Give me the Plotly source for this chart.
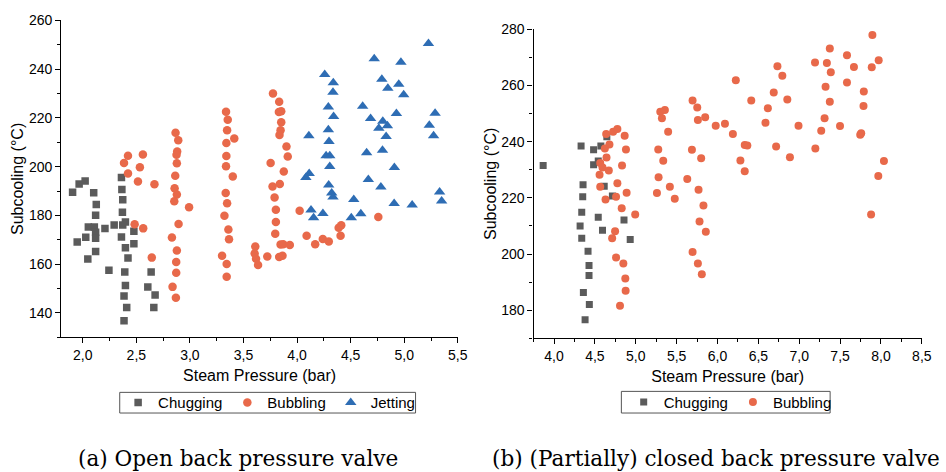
import plotly.graph_objects as go

# ---- (a) open back pressure valve ----
a_chug_p = [1.905, 1.948, 1.966, 2.022, 2.028, 2.047, 2.052, 2.102, 2.108, 2.12, 2.126, 2.12, 2.12, 2.12,
            2.207, 2.244, 2.293, 2.361, 2.365, 2.373, 2.37, 2.373, 2.398, 2.361, 2.398, 2.422, 2.392,
            2.398, 2.385, 2.41, 2.385, 2.477, 2.477, 2.638, 2.607, 2.675, 2.663]
a_chug_t = [189.5, 169.1, 192.9, 194.1, 171.1, 162.1, 175.3, 189.3, 175.3, 173.1, 184.5, 180.1, 170.6, 165.2,
            174.6, 157.5, 176.1, 195.6, 190.7, 186.4, 181.3, 176.1, 177.3, 171.2, 166.8, 162.5, 156.8,
            151.3, 147.0, 142.2, 136.8, 173.5, 168.4, 156.8, 150.6, 147.4, 142.2]

a_bub_p = [2.385, 2.422, 2.422, 2.561, 2.533, 2.515, 2.669, 2.484, 2.564, 2.644,
           2.866, 2.891, 2.881, 2.875, 2.878, 2.863, 2.857, 2.878, 2.854, 2.992, 2.894, 2.832, 2.878,
           2.872, 2.872, 2.838, 2.869,
           3.337, 3.353, 3.347, 3.34, 3.414, 3.34, 3.337, 3.4, 3.334, 3.347, 3.322, 3.359, 3.365,
           3.3, 3.343, 3.343,
           3.775, 3.833, 3.83, 3.852, 3.852, 3.846, 3.836, 3.901, 3.913, 3.753, 3.876, 3.771, 3.839,
           3.79, 3.802, 3.802, 3.796, 3.846, 3.87, 3.932, 3.833, 3.864, 3.61, 3.604, 3.617, 3.636,
           3.722, 4.024, 4.089, 4.169, 4.24, 4.296, 4.388, 4.412, 4.406, 4.758]
a_bub_t = [201.5, 204.5, 197.2, 205.0, 199.8, 193.9, 192.8, 176.4, 174.7, 162.7,
           213.9, 210.9, 206.2, 204.9, 201.4, 196.3, 191.2, 188.6, 185.8, 183.4, 176.5, 171.0, 165.6,
           160.9, 156.5, 150.7, 146.2,
           222.6, 219.3, 215.0, 209.7, 211.6, 204.4, 200.2, 196.0, 189.2, 185.0, 179.9, 174.2, 170.2,
           163.5, 160.1, 154.9,
           230.0, 226.7, 222.5, 222.8, 218.2, 215.0, 213.0, 208.3, 204.2, 201.5, 198.0, 191.9, 192.9,
           187.4, 182.3, 177.3, 172.5, 168.1, 168.2, 167.9, 163.0, 163.5, 167.3, 164.4, 162.2, 159.7,
           163.2, 181.9, 171.7, 168.2, 170.3, 169.3, 175.0, 176.0, 171.7, 179.4]

a_jet_p = [5.226, 4.72, 4.969, 4.258, 4.338, 4.335, 4.791, 4.847, 4.949, 4.995, 4.292, 4.341, 4.612,
           4.686, 4.927, 5.288, 4.8, 4.763, 4.843, 5.234, 4.292, 4.11, 4.831, 5.274, 4.298, 4.649,
           4.797, 4.271, 4.305, 4.305, 4.908, 4.113, 4.082, 4.665, 4.782, 4.295, 4.323, 4.335, 5.33,
           4.529, 5.349, 4.906, 5.074, 4.13, 4.241, 4.154, 4.506, 4.595]
a_jet_t = [250.6, 244.3, 242.9, 237.8, 234.5, 230.6, 235.9, 232.2, 233.8, 229.5, 224.5, 220.6, 224.8,
           219.8, 221.8, 221.9, 218.7, 215.8, 216.8, 217.0, 215.2, 212.7, 212.4, 212.7, 210.3, 205.7,
           206.8, 204.5, 204.5, 200.1, 199.7, 197.2, 195.6, 194.8, 191.7, 192.5, 189.2, 187.6, 189.6,
           186.5, 185.9, 184.9, 184.3, 182.2, 180.8, 179.1, 179.1, 180.7]

# ---- (b) (partially) closed back pressure valve ----
b_chug_p = [3.867, 4.331, 4.355, 4.351, 4.339, 4.319, 4.339, 4.416, 4.428, 4.428, 4.359, 4.432, 4.38,
            4.484, 4.484, 4.541, 4.573, 4.646, 4.541, 4.593, 4.614, 4.714, 4.856, 4.932]
b_chug_t = [231.5, 238.5, 224.7, 220.4, 214.9, 210.0, 205.6, 201.0, 195.9, 192.4, 186.3, 182.0, 176.6,
            237.1, 231.8, 233.1, 238.5, 241.8, 213.1, 208.5, 224.1, 220.7, 212.1, 205.2]

b_bub_p = [4.638, 4.678, 4.723, 4.775, 4.622, 4.864, 4.88, 4.642, 4.565, 4.593, 4.67, 4.832, 4.557,
           4.565, 4.775, 4.888, 4.759, 4.63, 4.828, 4.993, 4.747, 4.711, 4.759, 4.848, 4.872, 4.876,
           4.807,
           5.3, 5.356, 5.32, 5.396, 5.275, 5.336, 5.279, 5.417, 5.259, 5.477,
           5.695, 5.752, 5.76, 5.687, 5.8, 5.63, 5.768, 5.828, 5.695, 5.76, 5.808, 5.849, 5.978,
           6.091, 6.188, 6.224, 6.413, 6.333, 6.365, 6.28, 6.333, 5.78, 5.857,
           6.733, 6.793, 6.688, 6.854, 6.616, 6.587, 6.991, 6.717, 6.886,
           7.193, 7.338, 7.374, 7.386, 7.584, 7.669, 7.895, 7.972, 7.887, 7.322, 7.584, 7.79, 7.374,
           7.786, 7.31, 7.269, 7.499, 7.197, 7.746, 7.758, 8.036, 7.967, 7.879]
b_bub_t = [242.7, 239.0, 243.5, 244.5, 237.6, 242.1, 237.2, 234.4, 232.4, 230.8, 229.7, 231.5, 228.2,
           224.0, 225.2, 221.8, 220.4, 219.4, 216.3, 214.1, 208.1, 205.6, 198.8, 196.6, 191.3, 186.9,
           181.6,
           250.7, 251.3, 248.3, 243.5, 237.2, 233.2, 227.3, 224.0, 221.7, 219.7,
           254.7, 252.2, 247.7, 237.1, 234.1, 226.7, 222.9, 217.3, 200.7, 196.6, 192.8, 248.7, 245.7,
           246.4, 242.7, 261.9, 254.7, 238.8, 238.6, 233.3, 229.5, 211.6, 207.9,
           266.9, 263.5, 257.5, 255.0, 251.9, 246.7, 245.7, 238.3, 234.5,
           268.2, 268.0, 273.2, 264.7, 270.8, 266.6, 278.0, 269.0, 266.5, 259.6, 261.1, 257.9, 254.2,
           252.7, 248.3, 243.9, 245.6, 237.6, 242.5, 243.0, 233.1, 227.8, 214.1]

GRAY = "#5b5b5b"
ORANGE = "#e8694a"
BLUE = "#2e6db4"
SANS = "Liberation Sans, Arial, sans-serif"
SERIF = "DejaVu Serif, serif"

W, H = 946, 472


def px_x(v):
    return v / W


def px_y(v):
    return 1 - v / H


fig = go.Figure()

fig.add_trace(go.Scatter(x=a_chug_p, y=a_chug_t, mode="markers", name="Chugging",
                         marker=dict(symbol="square", size=7.5, color=GRAY),
                         xaxis="x", yaxis="y", legend="legend"))
fig.add_trace(go.Scatter(x=a_bub_p, y=a_bub_t, mode="markers", name="Bubbling",
                         marker=dict(symbol="circle", size=8.5, color=ORANGE),
                         xaxis="x", yaxis="y", legend="legend"))
fig.add_trace(go.Scatter(x=a_jet_p, y=a_jet_t, mode="markers", name="Jetting",
                         marker=dict(symbol="triangle-up", size=10, color=BLUE),
                         xaxis="x", yaxis="y", legend="legend"))

fig.add_trace(go.Scatter(x=b_chug_p, y=b_chug_t, mode="markers", name="Chugging",
                         marker=dict(symbol="square", size=7, color=GRAY),
                         xaxis="x2", yaxis="y2", legend="legend2"))
fig.add_trace(go.Scatter(x=b_bub_p, y=b_bub_t, mode="markers", name="Bubbling",
                         marker=dict(symbol="circle", size=8, color=ORANGE),
                         xaxis="x2", yaxis="y2", legend="legend2"))

axis_common = dict(
    showline=True, linecolor="black", linewidth=1.3, mirror=False,
    ticks="outside", ticklen=5, tickwidth=1.2, tickcolor="black",
    showgrid=False, zeroline=False,
    tickfont=dict(family=SANS, size=14, color="black"),
    title_font=dict(family=SANS, size=16, color="black"),
)
minor_common = dict(ticks="outside", ticklen=3, tickwidth=1, tickcolor="black", showgrid=False)

legend_common = dict(orientation="h", xanchor="center", yanchor="middle",
                     borderwidth=0, bgcolor="rgba(0,0,0,0)",
                     font=dict(family=SANS, size=15, color="black"))

# framed boxes around the two legends
legend_boxes = [
    dict(type="rect", xref="paper", yref="paper",
         x0=px_x(121), x1=px_x(420), y0=px_y(412), y1=px_y(391),
         line=dict(color="#555", width=1), fillcolor="white", layer="below"),
    dict(type="rect", xref="paper", yref="paper",
         x0=px_x(628), x1=px_x(839), y0=px_y(412), y1=px_y(390),
         line=dict(color="#555", width=1), fillcolor="white", layer="below"),
]

fig.update_layout(
    width=W, height=H,
    margin=dict(l=0, r=0, t=0, b=0),
    paper_bgcolor="white", plot_bgcolor="white",
    separators=",.",
    xaxis=dict(axis_common, domain=[px_x(62), px_x(462.7)], range=[1.8, 5.5], dtick=0.5,
               tickformat=".1f", minor=dict(minor_common, dtick=0.25),
               title=dict(text="Steam Pressure (bar)", standoff=7), anchor="y"),
    yaxis=dict(axis_common, domain=[px_y(335), px_y(12.7)], range=[130, 260], dtick=20,
               minor=dict(minor_common, dtick=10),
               title=dict(text="Subcooling (°C)", standoff=1), anchor="x"),
    xaxis2=dict(axis_common, domain=[px_x(539.3), px_x(931.7)], range=[3.75, 8.5], dtick=0.5,
                tickformat=".1f", minor=dict(minor_common, dtick=0.25),
                title=dict(text="Steam Pressure (bar)", standoff=7), anchor="y2"),
    yaxis2=dict(axis_common, domain=[px_y(336), px_y(21.7)], range=[170, 280], dtick=20,
                minor=dict(minor_common, dtick=10),
                title=dict(text="Subcooling (°C)", standoff=0), anchor="x2"),
    legend=dict(legend_common, x=px_x(272), y=px_y(401.5)),
    legend2=dict(legend_common, x=px_x(738), y=px_y(401)),
    shapes=legend_boxes,
    annotations=[
        dict(text="(a) Open back pressure valve", xref="paper", yref="paper",
             x=px_x(240.5), y=px_y(458), xanchor="center", yanchor="middle", showarrow=False,
             font=dict(family=SERIF, size=21.6, color="black")),
        dict(text="(b) (Partially) closed back pressure valve", xref="paper", yref="paper",
             x=px_x(495), y=px_y(458), xanchor="left", yanchor="middle", showarrow=False,
             font=dict(family=SERIF, size=21.6, color="black")),
    ],
)

fig.write_html("out.html")
